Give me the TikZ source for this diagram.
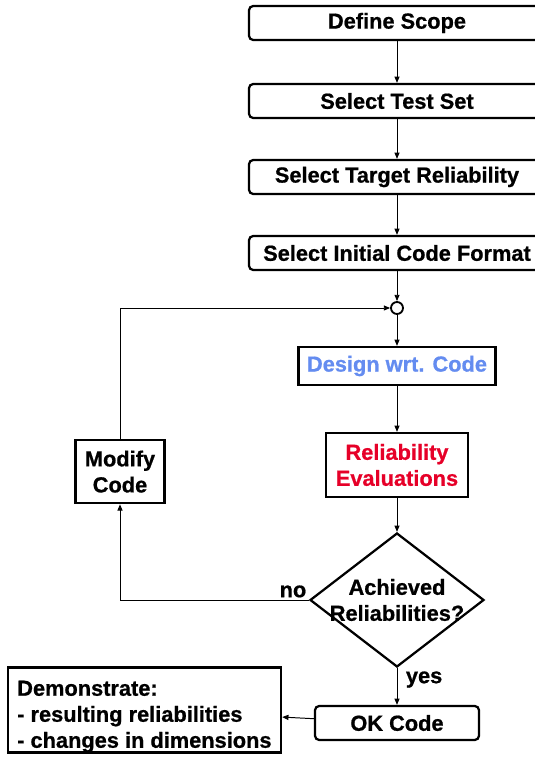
\documentclass[tikz,border=0pt]{standalone}
\usepackage{fontspec}
\setmainfont{Liberation Sans}[BoldFeatures={FakeBold=0.8}]
\usetikzlibrary{shapes.geometric,arrows.meta}
\definecolor{designblue}{RGB}{100,140,240}
\definecolor{evalred}{RGB}{230,0,40}
\begin{document}
\begin{tikzpicture}[
  font=\fontsize{15.5}{18.5}\selectfont\bfseries,
  >={Triangle[length=4.5pt,width=3.6pt]},
  roundbox/.style={draw, line width=1.6pt, rounded corners=3pt, minimum width=7.4cm, minimum height=0.85cm, inner sep=0pt},
  plainbox/.style={draw, line width=1.6pt, inner sep=0pt},
  decision/.style={draw, diamond, line width=1.6pt, inner sep=0pt},
  flow/.style={->, line width=0.7pt}
]
\useasboundingbox (0,0) rectangle (13.35,18.95);

% main column
\node[roundbox] (scope) at (9.925,18.375) {Define Scope};
\node[roundbox] (testset) at (9.925,16.425) {Select Test Set};
\node[roundbox] (target) at (9.925,14.525) {Select Target Reliability};
\node[roundbox] (format) at (9.925,12.625) {Select Initial Code Format};
\node[draw, circle, line width=1.3pt, minimum size=0.3cm, inner sep=0pt, fill=white] (join) at (9.925,11.25) {};
\node[plainbox, minimum width=4.93cm, minimum height=0.95cm, text=designblue] (design) at (9.925,9.8) {Design wrt. Code};
\node[plainbox, minimum width=3.55cm, minimum height=1.6cm, align=center, text=evalred] (eval) at (9.925,7.325) {Reliability\\Evaluations};
\node[decision, minimum width=4.35cm, minimum height=3.35cm,
  label={[align=center]center:Achieved\\Reliabilities?}] (check) at (9.925,3.95) {};
\node[roundbox, minimum width=4.1cm] (ok) at (9.925,0.875) {OK Code};

% side boxes
\node[plainbox, minimum width=2.23cm, minimum height=1.58cm, align=center] (modify) at (3.0,7.16) {Modify\\Code};
\node[plainbox, minimum width=6.83cm, minimum height=2.1cm, align=left] (demo) at (3.61,1.2)
{\rule{0pt}{20pt}Demonstrate:\\- resulting reliabilities\\- changes in dimensions};

\draw[flow] (scope) -- (testset);
\draw[flow] (testset) -- (target);
\draw[flow] (target) -- (format);
\draw[flow] (format) -- (join);
\draw[flow] (join) -- (design);
\draw[flow] (design) -- (eval);
\draw[flow] (eval) -- (check);
\draw[flow] (check) -- node[below right, pos=0, xshift=4pt, inner sep=2pt] {yes} (ok);
\draw[flow] (ok) -- (demo);
\draw[flow] (check.west) -| node[above left, pos=0, inner sep=1.5pt] {no} (modify.south);
\draw[flow] (modify.north) |- (join);
\end{tikzpicture}
\end{document}
